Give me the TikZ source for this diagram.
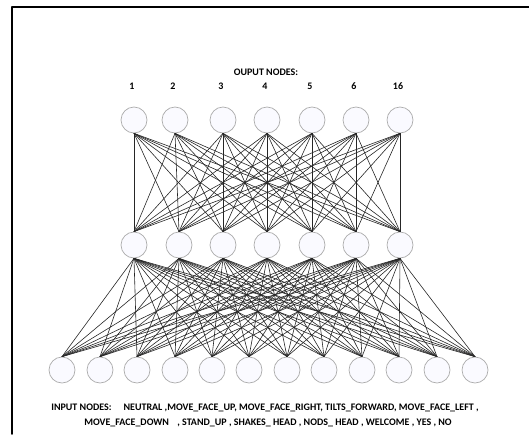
\documentclass[tikz,border=0pt]{standalone}
\usepackage{fontspec}
\setmainfont{Carlito}
\tikzset{
  neuron/.style={circle, draw=gray!65, fill=blue!2, minimum size=26pt, inner sep=0pt, line width=0.7pt},
  link/.style={black!85, line width=0.6pt},
  lbl/.style={font=\bfseries\fontsize{10}{12}\selectfont, inner sep=0pt}
}
\begin{document}
\begin{tikzpicture}[x=1pt, y=-1pt, line join=round, line cap=round]
			\useasboundingbox (0,0) rectangle (529,434);
			% frame
			\draw[line width=1.6pt] (12,434)--(12,7)--(529,7);
			% output layer
			\foreach \x/\t [count=\i] in {134/1,175/2,223/3,267/4,312/5,356/6,400/16}{
				\node[neuron] (o\i) at (\x,120) {};
				\node[lbl] (n\i) at (\x-2,86) {\t};
			}
			\node[lbl] (title) at (266,72) {OUPUT NODES:};
			% hidden layer
			\foreach \x [count=\i] in {134,179,223,267,312,356,400}
				\node[neuron] (h\i) at (\x,245) {};
			% input layer
			\foreach \x [count=\i] in {62,100,137,175,212,249,287,324,362,399,437,475}
				\node[neuron] (in\i) at (\x,370) {};
			% connections
			\foreach \i in {1,...,7}
				\foreach \j in {1,...,7}
					\draw[link] (o\i.south)--(h\j.north);
			\foreach \i in {1,...,7}
				\foreach \j in {1,...,12}
					\draw[link] (h\i.south)--(in\j.north);
			\node[lbl] (inA) at (265,408) {INPUT NODES:\hspace{12pt}NEUTRAL ,MOVE\_FACE\_UP, MOVE\_FACE\_RIGHT, TILTS\_FORWARD, MOVE\_FACE\_LEFT ,};
			\node[lbl] (inB) at (268,423) {MOVE\_FACE\_DOWN\hspace{6pt} , STAND\_UP , SHAKES\_ HEAD , NODS\_ HEAD , WELCOME , YES , NO};
		\end{tikzpicture}
\end{document}
